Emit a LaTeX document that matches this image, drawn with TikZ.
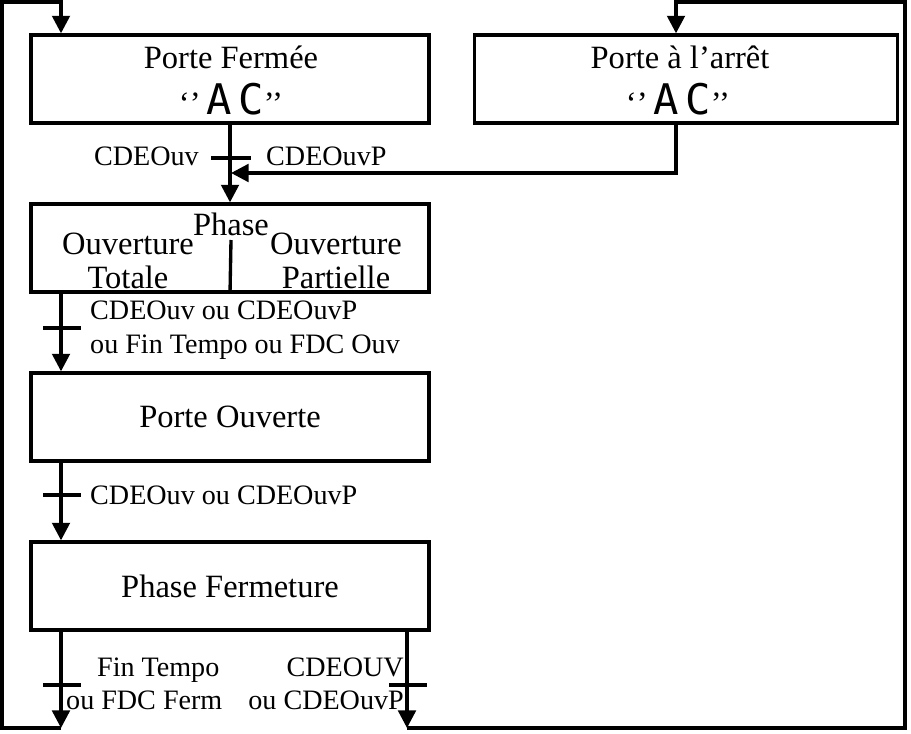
\documentclass[tikz,border=0pt]{standalone}
\usepackage{fontspec}
\setmainfont{Liberation Serif}
\newfontfamily\segfont{DejaVu Sans Mono}
\usetikzlibrary{arrows.meta}
\begin{document}
\begin{tikzpicture}[x=0.02cm,y=-0.02cm,
    etape/.style ={draw, line width=1.9pt, minimum width=7.96cm, minimum height=1.76cm,
                   font=\fontsize{18.5}{21}\selectfont, align=center},
    texte/.style ={font=\fontsize{18.5}{21}\selectfont},
    liaison/.style ={line width=1.9pt, -{Triangle[length=10pt,width=10pt]}},
    trait/.style ={line width=1.9pt},
    recept/.style ={font=\fontsize{16}{19}\selectfont, align=left},
    afficheur/.style ={font=\fontsize{18.5}{21}\selectfont}]
   \useasboundingbox (0,0) rectangle (911,733);
   \node[etape] (ferme) at (230,79) {};
   \node[etape, minimum width=8.46cm] (arret) at (686,79) {};
   \node[etape] (phase) at (230,248) {};
   \node[etape] (ouverte) at (230,417) {Porte Ouverte};
   \node[etape] (fermeture) at (230,586) {Phase Fermeture};
   % textes des etapes du haut
   \node[texte] (ft) at (231,57) {Porte Fermée};
   \node[afficheur] (fa) at (231,99) {‘’\,{\segfont\fontsize{24}{24}\selectfont A\,C}’’};
   \node[texte] (at) at (680,57) {Porte à l’arrêt};
   \node[afficheur] (aa) at (678,99) {‘’\,{\segfont\fontsize{24}{24}\selectfont A\,C}’’};
   % contenu de la phase d'ouverture
   \node[texte] (ph) at (231,224) {Phase};
   \node[texte] (tot1) at (128,244) {Ouverture};
   \node[texte] (tot2) at (128,277) {Totale};
   \node[texte] (part1) at (336,244) {Ouverture};
   \node[texte] (part2) at (336,277) {Partielle};
   \draw[trait] (231,240) -- (phase.south);
   % coordonnees des retours
   \coordinate (hg) at (2,2);
   \coordinate (hf) at (61,2);
   \coordinate (bg) at (2,728);
   \coordinate (b1) at (61,728);
   \coordinate (b2) at (407,728);
   \coordinate (bd) at (905,728);
   \coordinate (hd) at (905,2);
   \coordinate (ha) at (676,2);
   \coordinate (j) at (676,173);
   \coordinate (ja) at (231,173);
   % liaisons
   \draw[liaison] (ferme.south) -- (phase.north);
   \draw[liaison] (arret.south -| j) -- (j) -- (ja);
   \draw[liaison] (phase.south -| b1) -- (ouverte.north -| b1);
   \draw[liaison] (ouverte.south -| b1) -- (fermeture.north -| b1);
   \draw[liaison] (fermeture.south -| b1) -- (b1);
   \draw[liaison] (fermeture.south -| b2) -- (b2);
   \draw[liaison] (b1) -- (bg) -- (hg) -- (hf) -- (ferme.north -| hf);
   \draw[liaison] (b2) -- (bd) -- (hd) -- (ha) -- (arret.north -| ha);
   % receptivites
   \draw[trait] (211,158) -- (251,158);
   \draw[trait] (43,328) -- (81,328);
   \draw[trait] (43,495) -- (81,495);
   \draw[trait] (43,685) -- (81,685);
   \draw[trait] (389,685) -- (427,685);
   \node[recept, anchor=east] (r1) at (205,156) {CDEOuv};
   \node[recept, anchor=west] (r2) at (260,156) {CDEOuvP};
   \node[recept, anchor=west] (r3) at (84,330) {CDEOuv ou CDEOuvP\\ou Fin Tempo ou FDC Ouv};
   \node[recept, anchor=west] (r4) at (84,495) {CDEOuv ou CDEOuvP};
   \node[recept, anchor=west] (r5) at (60,684) {\hspace{1.1em}Fin Tempo\\ou FDC Ferm};
   \node[recept, anchor=east, align=right] (r6) at (410,684) {CDEOUV\\ou CDEOuvP};
\end{tikzpicture}
\end{document}
